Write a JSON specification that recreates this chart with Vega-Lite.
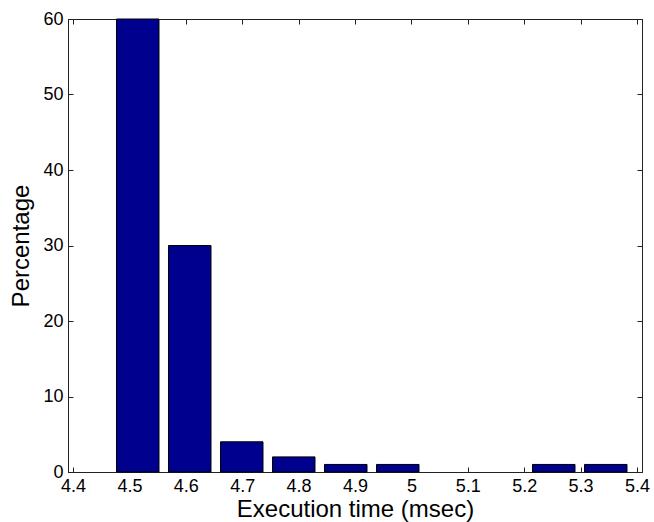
{
  "$schema": "https://vega.github.io/schema/vega-lite/v6.json",
  "width": 574,
  "height": 453,
  "autosize": "none",
  "padding": {"left": 68, "top": 19, "right": 12, "bottom": 50},
  "background": "white",
  "config": {
    "view": {"stroke": "#222"},
    "axis": {
      "grid": false,
      "domainColor": "#222",
      "tickColor": "#222",
      "tickSize": -5,
      "labelFont": "Liberation Sans",
      "labelFontSize": 18,
      "labelColor": "#000",
      "titleFont": "Liberation Sans",
      "titleFontSize": 24,
      "titleFontWeight": "normal",
      "titleColor": "#000"
    }
  },
  "data": {
    "values": [
      {"time": 4.5148, "pct": 60},
      {"time": 4.607, "pct": 30},
      {"time": 4.6992, "pct": 4},
      {"time": 4.7914, "pct": 2},
      {"time": 4.8836, "pct": 1},
      {"time": 4.9758, "pct": 1},
      {"time": 5.2524, "pct": 1},
      {"time": 5.3446, "pct": 1}
    ]
  },
  "resolve": {"axis": {"x": "independent", "y": "independent"}},
  "layer": [
    {
      "mark": {"type": "bar", "orient": "vertical", "size": 42.5, "fill": "#00008F", "stroke": "#000", "strokeWidth": 1},
      "encoding": {
        "x": {
          "field": "time", "type": "quantitative",
          "scale": {"domain": [4.4, 5.4], "nice": false, "zero": false},
          "axis": {
            "orient": "bottom",
            "title": "Execution time (msec)",
            "values": [4.4, 4.5, 4.6, 4.7, 4.8, 4.9, 5.0, 5.1, 5.2, 5.3, 5.4],
            "format": ".1~f",
            "labelPadding": 10,
            "titlePadding": 2,
            "labelFlush": false
          }
        },
        "y": {
          "field": "pct", "type": "quantitative",
          "scale": {"domain": [0, 60], "nice": false},
          "axis": {
            "orient": "left",
            "title": "Percentage",
            "values": [0, 10, 20, 30, 40, 50, 60],
            "labelPadding": 10,
            "titlePadding": 9,
            "labelFlush": false,
            "encode": {"labels": {"update": {"dy": {"signal": "datum.value === 0 ? -11 : 0"}}}}
          }
        }
      }
    },
    {
      "mark": {"type": "bar", "orient": "vertical", "size": 42.5, "opacity": 0},
      "encoding": {
        "x": {
          "field": "time", "type": "quantitative",
          "scale": {"domain": [4.4, 5.4], "nice": false, "zero": false},
          "axis": {
            "orient": "top",
            "title": null,
            "labels": false,
            "values": [4.4, 4.5, 4.6, 4.7, 4.8, 4.9, 5.0, 5.1, 5.2, 5.3, 5.4]
          }
        },
        "y": {
          "field": "pct", "type": "quantitative",
          "scale": {"domain": [0, 60], "nice": false},
          "axis": {
            "orient": "right",
            "title": null,
            "labels": false,
            "values": [0, 10, 20, 30, 40, 50, 60]
          }
        }
      }
    }
  ]
}
